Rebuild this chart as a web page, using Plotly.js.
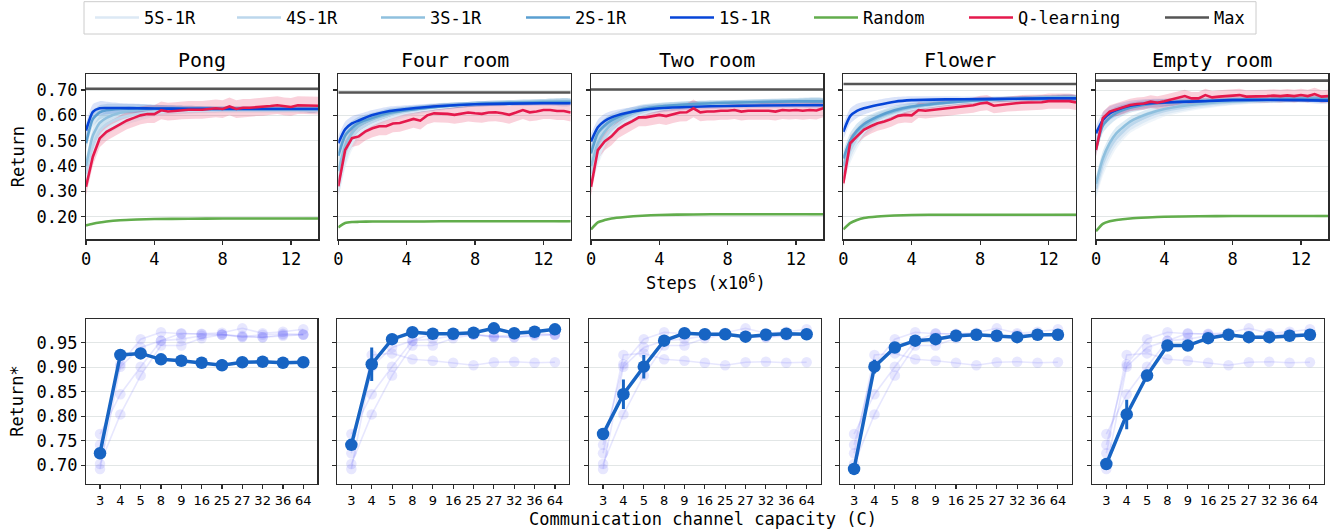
<!DOCTYPE html>
<html><head><meta charset="utf-8">
<script src="https://cdn.plot.ly/plotly-3.0.1.min.js"></script>
<style>html,body{margin:0;padding:0;background:#fff}#chart{width:1340px;height:531px}</style>
</head><body><div id="chart"></div>
<script>
// ---------- DATA ----------
const envNames = ['Pong', 'Four room', 'Two room', 'Flower', 'Empty room'];
const methodNames = ['5S-1R', '4S-1R', '3S-1R', '2S-1R', '1S-1R'];
const steps = [0, 0.4, 0.8, 1.2, 2, 3, 4, 6, 8, 12, 13.6];
const qSteps = [0,0.4,0.8,1.2,1.6,2,2.4,2.8,3.2,3.6,4,4.4,4.8,5.2,5.6,6,6.4,6.8,7.2,7.6,8,8.4,8.8,9.2,9.6,10,10.4,10.8,11.2,11.6,12,12.4,12.8,13.2,13.6];
const sSpread = [0.03, 0.03, 0.028, 0.025, 0.02, 0.018, 0.015, 0.012, 0.01, 0.01, 0.01];

// Pong
const pong5S = [0.35, 0.45, 0.515, 0.545, 0.575, 0.595, 0.61, 0.618, 0.62, 0.62, 0.62];
const pong4S = [0.37, 0.48, 0.54, 0.565, 0.59, 0.605, 0.615, 0.62, 0.622, 0.622, 0.622];
const pong3S = [0.40, 0.52, 0.57, 0.59, 0.61, 0.62, 0.625, 0.625, 0.625, 0.624, 0.624];
const pong2S = [0.49, 0.585, 0.612, 0.62, 0.625, 0.627, 0.627, 0.626, 0.625, 0.625, 0.625];
const pong1S = [0.54, 0.614, 0.628, 0.629, 0.629, 0.628, 0.627, 0.626, 0.625, 0.625, 0.625];
const pongRandom = [0.166, 0.172, 0.177, 0.181, 0.186, 0.189, 0.191, 0.192, 0.193, 0.193, 0.193];
const pongQ = [0.318,0.437,0.509,0.535,0.55,0.565,0.58,0.59,0.60,0.605,0.605,0.62,0.615,0.617,0.62,0.622,0.622,0.622,0.625,0.628,0.625,0.635,0.625,0.63,0.63,0.632,0.633,0.637,0.64,0.635,0.633,0.64,0.64,0.64,0.638];
const pongMax = 0.705;

// Four room
const four5S = [0.30, 0.42, 0.49, 0.53, 0.565, 0.59, 0.61, 0.63, 0.645, 0.655, 0.656];
const four4S = [0.33, 0.45, 0.51, 0.545, 0.575, 0.60, 0.615, 0.635, 0.645, 0.655, 0.656];
const four3S = [0.38, 0.48, 0.53, 0.56, 0.585, 0.605, 0.62, 0.635, 0.645, 0.655, 0.656];
const four2S = [0.44, 0.52, 0.55, 0.57, 0.59, 0.61, 0.62, 0.635, 0.645, 0.652, 0.653];
const four1S = [0.49, 0.545, 0.568, 0.58, 0.601, 0.617, 0.625, 0.637, 0.644, 0.648, 0.648];
const fourRandom = [0.158, 0.175, 0.179, 0.180, 0.181, 0.181, 0.181, 0.182, 0.182, 0.182, 0.182];
const fourQ = [0.32,0.463,0.51,0.517,0.537,0.549,0.557,0.557,0.568,0.57,0.578,0.586,0.579,0.60,0.608,0.608,0.606,0.602,0.606,0.611,0.608,0.606,0.611,0.612,0.608,0.602,0.611,0.621,0.612,0.615,0.621,0.621,0.617,0.617,0.611];
const fourMax = 0.69;

// Two room
const two5S = [0.34, 0.43, 0.49, 0.53, 0.575, 0.605, 0.623, 0.64, 0.648, 0.658, 0.658];
const two4S = [0.37, 0.46, 0.51, 0.545, 0.585, 0.612, 0.628, 0.643, 0.65, 0.658, 0.658];
const two3S = [0.40, 0.49, 0.535, 0.565, 0.595, 0.62, 0.633, 0.645, 0.65, 0.657, 0.657];
const two2S = [0.45, 0.53, 0.56, 0.58, 0.605, 0.625, 0.635, 0.645, 0.65, 0.655, 0.655];
const two1S = [0.497, 0.553, 0.578, 0.592, 0.608, 0.621, 0.628, 0.634, 0.637, 0.64, 0.64];
const twoRandom = [0.150, 0.178, 0.187, 0.193, 0.199, 0.204, 0.207, 0.209, 0.21, 0.21, 0.21];
const twoQ = [0.318,0.463,0.497,0.517,0.546,0.563,0.576,0.592,0.592,0.597,0.602,0.597,0.605,0.611,0.612,0.628,0.612,0.615,0.615,0.618,0.618,0.621,0.615,0.618,0.618,0.619,0.618,0.615,0.621,0.619,0.621,0.618,0.621,0.619,0.628];
const twoMax = 0.702;

// Flower
const flower5S = [0.35, 0.44, 0.495, 0.535, 0.575, 0.605, 0.625, 0.645, 0.657, 0.668, 0.668];
const flower4S = [0.37, 0.46, 0.51, 0.545, 0.583, 0.61, 0.628, 0.648, 0.658, 0.67, 0.67];
const flower3S = [0.40, 0.48, 0.525, 0.555, 0.59, 0.615, 0.632, 0.65, 0.66, 0.67, 0.67];
const flower2S = [0.43, 0.50, 0.54, 0.565, 0.595, 0.62, 0.635, 0.65, 0.66, 0.668, 0.668];
const flower1S = [0.535, 0.597, 0.618, 0.628, 0.641, 0.654, 0.66, 0.663, 0.664, 0.667, 0.667];
const flowerRandom = [0.150, 0.175, 0.187, 0.195, 0.201, 0.205, 0.207, 0.208, 0.208, 0.208, 0.208];
const flowerQ = [0.332,0.49,0.517,0.543,0.557,0.569,0.576,0.585,0.598,0.602,0.60,0.621,0.618,0.621,0.624,0.628,0.63,0.634,0.638,0.64,0.647,0.65,0.638,0.641,0.645,0.647,0.65,0.651,0.651,0.652,0.656,0.656,0.657,0.656,0.651];
const flowerMax = 0.724;

// Empty room
const empty5S = [0.30, 0.39, 0.45, 0.495, 0.55, 0.585, 0.61, 0.635, 0.65, 0.663, 0.664];
const empty4S = [0.31, 0.41, 0.47, 0.51, 0.56, 0.595, 0.617, 0.64, 0.652, 0.664, 0.665];
const empty3S = [0.33, 0.43, 0.49, 0.53, 0.575, 0.605, 0.625, 0.645, 0.655, 0.665, 0.666];
const empty2S = [0.47, 0.56, 0.59, 0.61, 0.63, 0.643, 0.65, 0.657, 0.662, 0.665, 0.665];
const empty1S = [0.529, 0.582, 0.608, 0.621, 0.638, 0.647, 0.651, 0.655, 0.66, 0.66, 0.658];
const emptyRandom = [0.143, 0.172, 0.182, 0.187, 0.193, 0.197, 0.200, 0.202, 0.203, 0.203, 0.203];
const emptyQ = [0.463,0.589,0.615,0.624,0.63,0.641,0.645,0.647,0.654,0.65,0.656,0.662,0.667,0.676,0.667,0.667,0.68,0.671,0.674,0.676,0.68,0.68,0.674,0.674,0.676,0.676,0.678,0.676,0.679,0.676,0.68,0.676,0.684,0.674,0.676];
const emptyMax = 0.737;

const qSpread = [0.035, 0.035, 0.035, 0.03, 0.025];

// Bottom row: Return* vs communication channel capacity
const capacities = ['3','4','5','8','9','16','25','27','32','36','64'];
const pongC   = [0.725, 0.925, 0.928, 0.916, 0.913, 0.909, 0.904, 0.91, 0.911, 0.909, 0.91];
const pongErr = [0.005, 0.005, 0.004, 0.004, 0.004, 0.005, 0.012, 0.004, 0.004, 0.005, 0.005];
const fourC   = [0.742, 0.906, 0.957, 0.971, 0.968, 0.968, 0.97, 0.979, 0.969, 0.972, 0.977];
const fourErr = [0.004, 0.034, 0.004, 0.003, 0.003, 0.003, 0.003, 0.003, 0.003, 0.003, 0.003];
const twoC    = [0.764, 0.845, 0.901, 0.954, 0.969, 0.967, 0.967, 0.962, 0.966, 0.968, 0.967];
const twoErr  = [0.012, 0.03, 0.024, 0.004, 0.003, 0.003, 0.005, 0.003, 0.003, 0.003, 0.003];
const flowerC   = [0.693, 0.901, 0.94, 0.954, 0.957, 0.964, 0.966, 0.964, 0.961, 0.966, 0.966];
const flowerErr = [0.012, 0.014, 0.004, 0.004, 0.006, 0.004, 0.004, 0.003, 0.003, 0.003, 0.003];
const emptyC   = [0.703, 0.804, 0.883, 0.944, 0.944, 0.959, 0.966, 0.961, 0.961, 0.964, 0.966];
const emptyErr = [0.012, 0.03, 0.012, 0.007, 0.008, 0.004, 0.003, 0.003, 0.003, 0.003, 0.003];

const topTicks = [0.2, 0.3, 0.4, 0.5, 0.6, 0.7];
const botTicks = [0.70, 0.75, 0.80, 0.85, 0.90, 0.95];
const stepTicks = [0, 4, 8, 12];

// ---------- ASSEMBLY ----------
const envS = [
  [pong5S, pong4S, pong3S, pong2S, pong1S],
  [four5S, four4S, four3S, four2S, four1S],
  [two5S, two4S, two3S, two2S, two1S],
  [flower5S, flower4S, flower3S, flower2S, flower1S],
  [empty5S, empty4S, empty3S, empty2S, empty1S]
];
const envRandom = [pongRandom, fourRandom, twoRandom, flowerRandom, emptyRandom];
const envQ = [pongQ, fourQ, twoQ, flowerQ, emptyQ];
const envMax = [pongMax, fourMax, twoMax, flowerMax, emptyMax];
const envC = [pongC, fourC, twoC, flowerC, emptyC];
const envErr = [pongErr, fourErr, twoErr, flowerErr, emptyErr];

const sColors = ['#dce9f5', '#bcd7ec', '#8fc0de', '#5a9fd1', '#0645d8'];
const sBand = ['rgba(220,233,245,0.45)', 'rgba(188,215,236,0.35)', 'rgba(143,192,222,0.3)', 'rgba(90,159,209,0.25)', 'rgba(6,69,216,0.15)'];
const randomColor = '#62ad4c', qColor = '#e5194c', maxColor = '#555555';
const boldColor = '#1764c3', faintColor = 'rgba(85,85,250,0.14)';
const MONO = 'DejaVu Sans Mono';

const W = 1340, H = 531;
const topCols = [[86,318.3],[338.3,570.7],[591,823.3],[843.3,1076],[1096,1328.3]];
const botCols = [[86,317.3],[337.3,569],[589,820.7],[840,1072],[1092.3,1324]];
const topRow = [74.3, 239.3], botRow = [319, 483.7];
const px = v => v / W, py = v => 1 - v / H;

const traces = [];
const legendIds = ['legend','legend2','legend3','legend4','legend5','legend6','legend7','legend8'];

function band(x, y, spread, color, xa, ya) {
  const up = y.map((v, k) => v + (Array.isArray(spread) ? spread[k] : spread));
  const lo = y.map((v, k) => v - (Array.isArray(spread) ? spread[k] : spread));
  return {x: x.concat(x.slice().reverse()), y: up.concat(lo.reverse()), fill: 'toself', fillcolor: color,
    line: {width: 0, shape: 'spline', smoothing: 0.6}, mode: 'lines', hoverinfo: 'skip', showlegend: false, xaxis: xa, yaxis: ya};
}

for (let i = 0; i < 5; i++) {
  const xa = 'x' + (i + 1), ya = 'y' + (i + 1);
  const first = i === 0;
  for (let m = 0; m < 5; m++) traces.push(band(steps, envS[i][m], sSpread, sBand[m], xa, ya));
  traces.push(band(steps, envRandom[i], 0.003, 'rgba(98,173,76,0.2)', xa, ya));
  const qlo = envQ[i].map(v => v - qSpread[i]);
  const qup = envQ[i].map(v => v + qSpread[i]);
  traces.push({x: qSteps.concat(qSteps.slice().reverse()), y: qup.concat(qlo.reverse()), fill: 'toself',
    fillcolor: 'rgba(229,25,76,0.2)', line: {width: 0}, mode: 'lines', hoverinfo: 'skip', showlegend: false, xaxis: xa, yaxis: ya});
  for (let m = 0; m < 5; m++) {
    traces.push({x: steps, y: envS[i][m], mode: 'lines', name: methodNames[m],
      line: {color: sColors[m], width: 2.6, shape: 'spline', smoothing: 0.6},
      showlegend: first, legend: legendIds[m], xaxis: xa, yaxis: ya});
  }
  traces.push({x: steps, y: envRandom[i], mode: 'lines', name: 'Random',
    line: {color: randomColor, width: 2.6, shape: 'spline', smoothing: 0.6},
    showlegend: first, legend: legendIds[5], xaxis: xa, yaxis: ya});
  traces.push({x: qSteps, y: envQ[i], mode: 'lines', name: 'Q-learning',
    line: {color: qColor, width: 2.6}, showlegend: first, legend: legendIds[6], xaxis: xa, yaxis: ya});
  traces.push({x: [0, 13.6], y: [envMax[i], envMax[i]], mode: 'lines', name: 'Max',
    line: {color: maxColor, width: 2.6}, showlegend: first, legend: legendIds[7], xaxis: xa, yaxis: ya});
}

for (let i = 0; i < 5; i++) {
  const xa = 'x' + (i + 6), ya = 'y' + (i + 6);
  for (let j = 0; j < 5; j++) {
    if (j === i) continue;
    traces.push({x: capacities, y: envC[j], mode: 'lines+markers', showlegend: false,
      line: {color: faintColor, width: 1.6}, marker: {size: 10.5, color: faintColor},
      xaxis: xa, yaxis: ya});
  }
  traces.push({x: capacities, y: envC[i], mode: 'lines+markers', showlegend: false,
    line: {color: boldColor, width: 3.5}, marker: {size: 12.5, color: boldColor},
    error_y: {type: 'data', array: envErr[i], visible: true, color: boldColor, thickness: 3, width: 0},
    xaxis: xa, yaxis: ya});
}

const layout = {
  width: W, height: H, autosize: false,
  margin: {l: 0, r: 0, t: 0, b: 0},
  paper_bgcolor: '#fff', plot_bgcolor: '#fff',
  font: {family: MONO, size: 17, color: '#000'},
  annotations: [], shapes: []
};

const axLine = {showline: true, mirror: true, linecolor: '#2b2b2b', linewidth: 1.2, zeroline: false,
  ticks: 'outside', ticklen: 4, tickwidth: 1.1, tickcolor: '#2b2b2b'};

for (let i = 0; i < 5; i++) {
  const k = i + 1;
  layout['xaxis' + (k === 1 ? '' : k)] = Object.assign({}, axLine, {
    domain: [px(topCols[i][0]), px(topCols[i][1])], anchor: 'y' + k,
    range: [0, 13.6], tickvals: stepTicks, ticktext: stepTicks.map(String), showgrid: false,
    tickfont: {family: MONO, size: 17, color: '#000'}});
  layout['yaxis' + (k === 1 ? '' : k)] = Object.assign({}, axLine, {
    domain: [py(topRow[1]), py(topRow[0])], anchor: 'x' + k,
    range: [0.111, 0.762], tickvals: topTicks, ticktext: topTicks.map(v => v.toFixed(2)),
    showticklabels: i === 0, showgrid: true, gridcolor: '#e2e6e6', gridwidth: 1,
    tickfont: {family: MONO, size: 17, color: '#000'}});
  const b = i + 6;
  layout['xaxis' + b] = Object.assign({}, axLine, {
    domain: [px(botCols[i][0]), px(botCols[i][1])], anchor: 'y' + b,
    type: 'category', categoryorder: 'array', categoryarray: capacities,
    range: [-0.69, 10.69], showgrid: false,
    tickfont: {family: 'DejaVu Sans', size: 13, color: '#000'}});
  layout['yaxis' + b] = Object.assign({}, axLine, {
    domain: [py(botRow[1]), py(botRow[0])], anchor: 'x' + b,
    range: [0.663, 0.998], tickvals: botTicks, ticktext: botTicks.map(v => v.toFixed(2)),
    showticklabels: i === 0, showgrid: true, gridcolor: '#e2e6e6', gridwidth: 1,
    tickfont: {family: MONO, size: 17, color: '#000'}});
  layout.annotations.push({text: envNames[i], xref: 'paper', yref: 'paper',
    x: px((topCols[i][0] + topCols[i][1]) / 2), y: py(60), xanchor: 'center', yanchor: 'middle',
    showarrow: false, font: {family: MONO, size: 20, color: '#000'}});
}

layout.annotations.push(
  {text: 'Return', textangle: -90, xref: 'paper', yref: 'paper', x: px(17.5), y: py((topRow[0] + topRow[1]) / 2),
   xanchor: 'center', yanchor: 'middle', showarrow: false, font: {family: MONO, size: 17, color: '#000'}},
  {text: 'Return*', textangle: -90, xref: 'paper', yref: 'paper', x: px(17.5), y: py((botRow[0] + botRow[1]) / 2),
   xanchor: 'center', yanchor: 'middle', showarrow: false, font: {family: MONO, size: 17, color: '#000'}},
  {text: 'Steps (x10<sup>6</sup>)', xref: 'paper', yref: 'paper', x: px(706), y: py(282),
   xanchor: 'center', yanchor: 'middle', showarrow: false, font: {family: MONO, size: 17, color: '#000'}},
  {text: 'Communication channel capacity (C)', xref: 'paper', yref: 'paper', x: px(703), y: py(519),
   xanchor: 'center', yanchor: 'middle', showarrow: false, font: {family: MONO, size: 17, color: '#000'}}
);

// legend frame
layout.shapes.push({type: 'rect', xref: 'paper', yref: 'paper', x0: px(84), x1: px(1256), y0: py(34), y1: py(1.7),
  line: {color: '#cccccc', width: 1}, fillcolor: 'rgba(0,0,0,0)', layer: 'below'});

const legendTextStarts = [144, 286, 430, 575, 719, 863, 1018, 1214];
const legendItemWidth = 44;
legendIds.forEach((id, k) => {
  layout[id] = {x: px(legendTextStarts[k] - legendItemWidth - 10), y: py(17.7), xanchor: 'left', yanchor: 'middle',
    orientation: 'h', bgcolor: 'rgba(0,0,0,0)', borderwidth: 0, itemwidth: legendItemWidth,
    font: {family: MONO, size: 17, color: '#000'}};
});

Plotly.newPlot('chart', traces, layout, {displayModeBar: false, staticPlot: true});
</script>
</body></html>
